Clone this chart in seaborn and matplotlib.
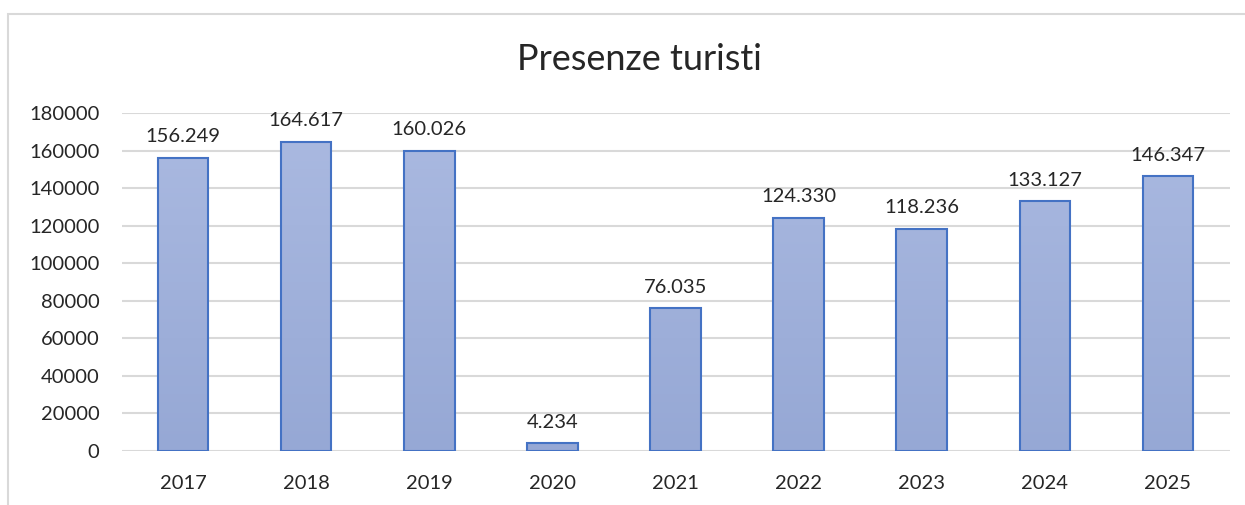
import matplotlib
matplotlib.use("Agg")
import matplotlib.pyplot as plt
from matplotlib.patches import Rectangle
from matplotlib.colors import LinearSegmentedColormap
import seaborn as sns
import pandas as pd
import numpy as np

anni = ["2017", "2018", "2019", "2020", "2021", "2022", "2023", "2024", "2025"]
presenze = [156249, 164617, 160026, 4234, 76035, 124330, 118236, 133127, 146347]
y_ticks = [0, 20000, 40000, 60000, 80000, 100000, 120000, 140000, 160000, 180000]

df = pd.DataFrame({"anno": anni, "presenze": presenze})

sns.set_style("white")
plt.rcParams["font.family"] = ["Lato", "DejaVu Sans"]
testo = "#262626"

fig = plt.figure(figsize=(12.45, 5.05), dpi=100)
ax = fig.add_axes([121.5 / 1245, 54 / 505, 1108 / 1245, 338 / 505])

# cornice grigia del grafico
fig.patches.append(Rectangle((8 / 1245, -0.1), 1.2, (505 - 14) / 505 + 0.1,
                             transform=fig.transFigure, fill=False,
                             edgecolor="#d9d9d9", linewidth=1.5))

sns.barplot(data=df, x="anno", y="presenze", ax=ax, color="#a2b3dc",
            edgecolor="#4472c4", linewidth=1.5, width=0.41, saturation=1)

# sfumatura verticale dentro le barre (chiaro in alto, piu scuro in basso)
cmap = LinearSegmentedColormap.from_list("grad", ["#96a8d5", "#abbae1"])
grad = np.linspace(0, 1, 256).reshape(-1, 1)
for p in ax.patches:
    x0, w, h = p.get_x(), p.get_width(), p.get_height()
    im = ax.imshow(grad, cmap=cmap, aspect="auto", origin="lower",
                   extent=[x0, x0 + w, 0, 180000], zorder=p.get_zorder() - 0.1)
    im.set_clip_path(p)
    p.set_facecolor("none")

ax.set_xlim(-0.5, len(anni) - 0.5)
ax.set_ylim(0, 180000)
ax.set_yticks(y_ticks)
ax.set_yticklabels([str(v) for v in y_ticks])
ax.yaxis.grid(True, color="#d9d9d9", linewidth=1.5)
ax.set_axisbelow(True)
for s in ax.spines.values():
    s.set_visible(False)
ax.tick_params(axis="both", length=0, labelsize=14.5, labelcolor=testo)
ax.tick_params(axis="y", pad=16)
ax.tick_params(axis="x", pad=17)
ax.set_xlabel("")
ax.set_ylabel("")

for c in ax.containers:
    ax.bar_label(c, labels=[f"{v:,}".replace(",", ".") for v in presenze],
                 padding=9, fontsize=14.5, color=testo)

fig.text(0.514, (505 - 60) / 505, "Presenze turisti", ha="center", va="center",
         fontsize=26, color=testo)

fig.savefig("out.png", dpi=100)
